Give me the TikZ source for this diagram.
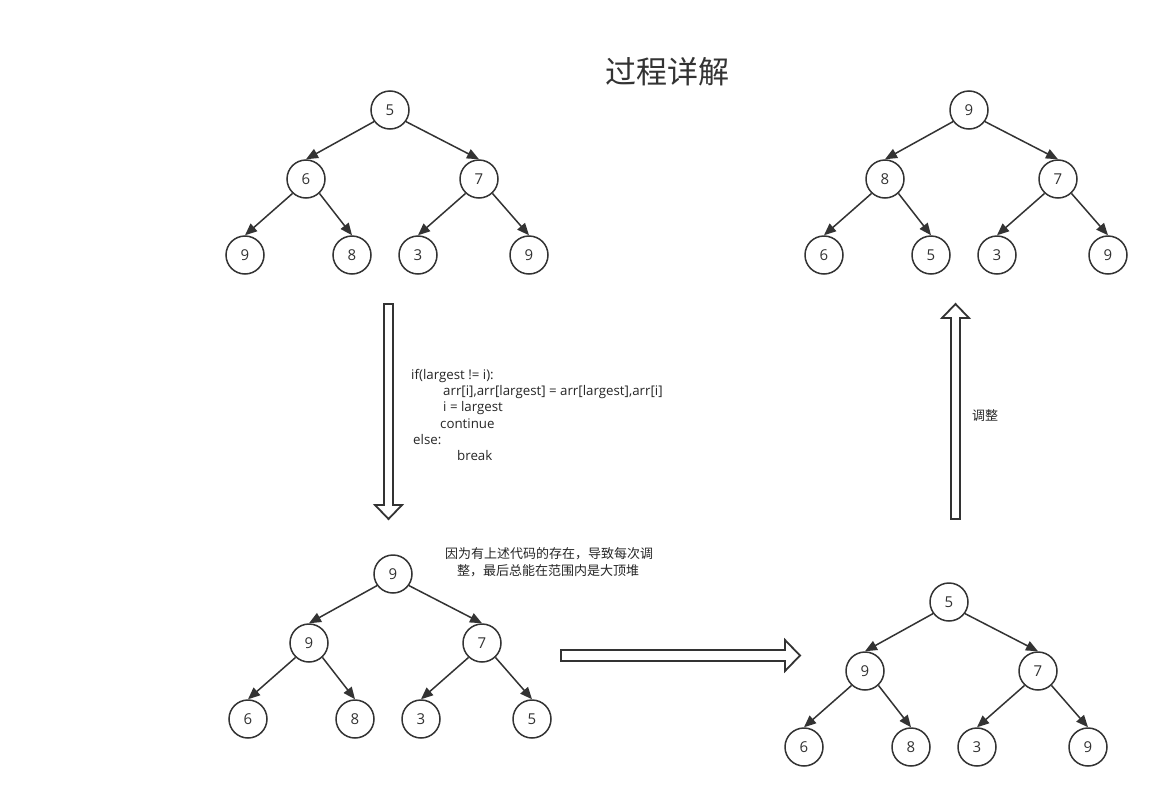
\documentclass[tikz,border=0pt]{standalone}
\usepackage{fontspec}
\setmainfont{Open Sans}
\newfontfamily\cjk{Noto Sans CJK SC}
\usetikzlibrary{arrows.meta}
\definecolor{ink}{HTML}{333333}
\begin{document}
\begin{tikzpicture}[x=1pt,y=-1pt,
  tn/.style={circle,draw=ink,line width=1.5pt,minimum size=38pt,inner sep=0pt,fill=white,font=\fontsize{15}{15}\selectfont,text=ink},
  ed/.style={draw=ink,line width=1.5pt,-{Triangle[length=12pt,width=10pt]}},
  blk/.style={draw=ink,line width=1.8pt,fill=white,line join=miter},
  code/.style={anchor=west,inner sep=0pt,font=\fontsize{13.3}{13.3}\selectfont,text=black!85},
  note/.style={inner sep=0pt,font=\cjk\fontsize{13}{13}\selectfont,text=black!85}]
\useasboundingbox (0,0) rectangle (1160,798);
\fill[white] (0,0) rectangle (1160,798);
\node[font=\cjk\fontsize{31}{31}\selectfont,text=ink] (title) at (667,72) {过程详解};
% tree 1
\node[tn] (ar) at (390,110) {5};
\node[tn] (aa) at (306,179) {6};
\node[tn] (ab) at (479,179) {7};
\node[tn] (ac) at (245,255) {9};
\node[tn] (ad) at (352,255) {8};
\node[tn] (ae) at (418,255) {3};
\node[tn] (af) at (529,255) {9};
% tree 2
\node[tn] (br) at (969,110) {9};
\node[tn] (ba) at (885,179) {8};
\node[tn] (bb) at (1058,179) {7};
\node[tn] (bc) at (824,255) {6};
\node[tn] (bd) at (931,255) {5};
\node[tn] (be) at (997,255) {3};
\node[tn] (bf) at (1108,255) {9};
% tree 3
\node[tn] (cr) at (393,574) {9};
\node[tn] (ca) at (309,643) {9};
\node[tn] (cb) at (482,643) {7};
\node[tn] (cc) at (248,719) {6};
\node[tn] (cd) at (355,719) {8};
\node[tn] (ce) at (421,719) {3};
\node[tn] (cf) at (532,719) {5};
% tree 4
\node[tn] (dr) at (949,602) {5};
\node[tn] (da) at (865,671) {9};
\node[tn] (db) at (1038,671) {7};
\node[tn] (dc) at (804,747) {6};
\node[tn] (dd) at (911,747) {8};
\node[tn] (de) at (977,747) {3};
\node[tn] (df) at (1088,747) {9};
\foreach \t in {a,b,c,d}{
  \draw[ed] (\t r.216) -- (\t a.north);
  \draw[ed] (\t r.324) -- (\t b.north);
  \draw[ed] (\t a.227) -- (\t c.north);
  \draw[ed] (\t a.313) -- (\t d.north);
  \draw[ed] (\t b.227) -- (\t e.north);
  \draw[ed] (\t b.313) -- (\t f.north);
}
% block arrows
\draw[blk] (384,304) -- (393,304) -- (393,505) -- (402,505) -- (388.5,519) -- (375,505) -- (384,505) -- cycle;
\draw[blk] (951,519) -- (960,519) -- (960,318) -- (969,318) -- (955.5,304) -- (942,318) -- (951,318) -- cycle;
\draw[blk] (561,650) -- (785,650) -- (785,640) -- (800,655.5) -- (785,671) -- (785,661) -- (561,661) -- cycle;
% code
\node[code] (l1) at (411,376) {if(largest != i):};
\node[code] (l2) at (443,392) {arr[i],arr[largest] = arr[largest],arr[i]};
\node[code] (l3) at (443,408) {i = largest};
\node[code] (l4) at (440,424) {continue};
\node[code] (l5) at (413,440) {else:};
\node[code] (l6) at (457,456) {break};
\node[note] (n1) at (549,554) {因为有上述代码的存在，导致每次调};
\node[note] (n2) at (548,571) {整，最后总能在范围内是大顶堆};
\node[note] (adj) at (985,416) {调整};
\end{tikzpicture}
\end{document}
